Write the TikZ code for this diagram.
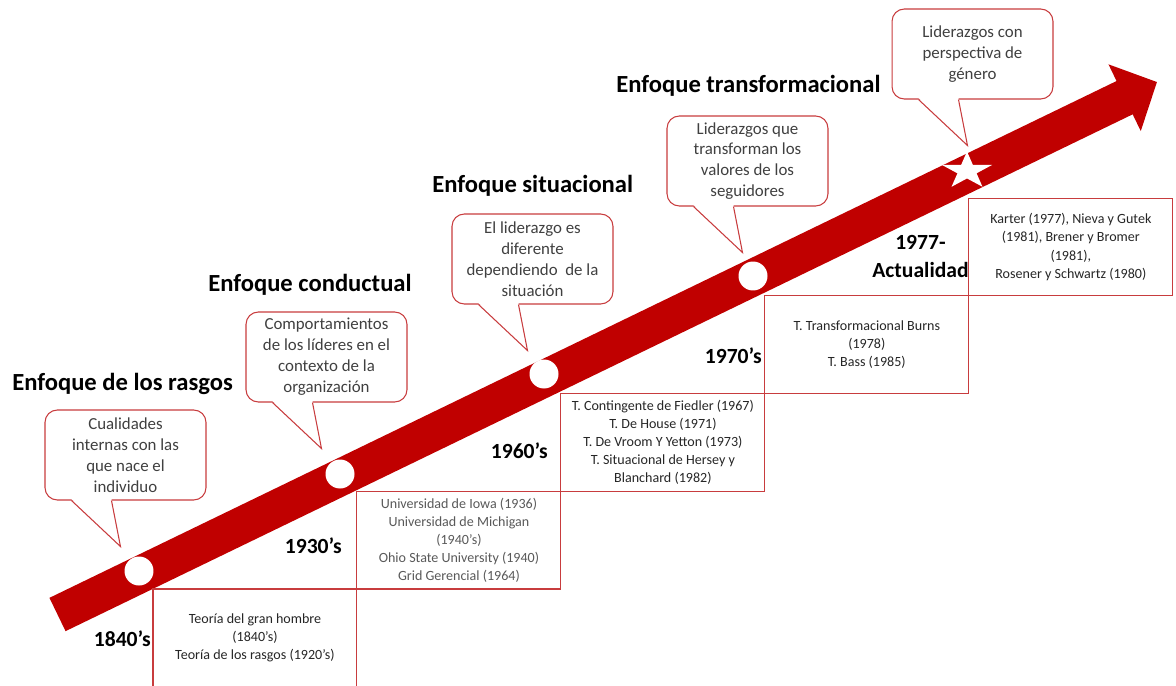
\documentclass[tikz,border=0pt]{standalone}
\usepackage{fontspec}
\setmainfont{Carlito}
\usepackage{tikz}
\usetikzlibrary{arrows.meta,shapes.geometric}
\usetikzlibrary{positioning}
\definecolor{arrowred}{RGB}{192,0,0}
\definecolor{linered}{RGB}{200,60,62}
\definecolor{graytxt}{RGB}{89,89,89}
\definecolor{darktxt}{RGB}{38,38,38}
\definecolor{bubbletxt}{RGB}{64,64,64}
\tikzset{
    period/.style={
           rectangle,
           draw=linered, line width=0.6pt,
           minimum width=4.08cm,
           minimum height=1.955cm,
           inner sep=0pt, outer sep=0pt,
           align=center,
           text=darktxt,
           font=\fontsize{8}{10.3}\selectfont,
           },
}
\tikzset{
    bubble/.style={
           rectangle,
           rounded corners=7pt,
           draw=linered, line width=0.6pt,
           fill=white,
           minimum width=3.22cm,
           minimum height=1.8cm,
           align=center,
           text=bubbletxt,
           font=\fontsize{9.6}{11.9}\selectfont,
           },
}
\tikzset{
    milestone/.style={
           circle,
           fill=white,
           minimum size=0.58cm,
           inner sep=0pt,
           },
}
\tikzset{
    stage/.style={font=\fontsize{14}{17}\selectfont\bfseries, inner sep=0pt, anchor=base west},
    era/.style={font=\fontsize{12.3}{15.8}\selectfont\bfseries, inner sep=0pt, align=center, anchor=base east},
}

\begin{document}
\begin{tikzpicture}[x=0.02cm, y=-0.02cm]
\useasboundingbox (0,0) rectangle (1176,686);
\clip (0,0) rectangle (1176,686);

\coordinate (tail) at (57.5,614.5);
\coordinate (tip) at (1157,82);
\draw[arrowred, line width=0.74cm, -{Triangle[length=0.72cm,width=1.44cm]}] (tail) -- (tip);

\node[milestone] (m1) at (139,571) {};
\node[milestone] (m2) at (340,474) {};
\node[milestone] (m3) at (544,374) {};
\node[milestone] (m4) at (753,276) {};
\begin{scope}[shift={(967,171)}, xscale=1.35]
\node[star, star points=5, star point ratio=2.618, fill=white, minimum size=0.78cm, inner sep=0pt, transform shape] (m5) at (0,0) {};
\end{scope}

\node[period, anchor=north west] (b1) at (153,589) {Teoría del gran hombre\\(1840’s)\\Teoría de los rasgos (1920’s)};
\node[period, text=graytxt, above right=0pt and 0pt of b1] (b2) {Universidad de Iowa (1936)\\Universidad de Michigan\\(1940’s)\\Ohio State University (1940)\\Grid Gerencial (1964)};
\node[period, above right=0pt and 0pt of b2] (b3) {T. Contingente de Fiedler (1967)\\T. De House (1971)\\T. De Vroom Y Yetton (1973)\\T. Situacional de Hersey y\\Blanchard (1982)};
\node[period, above right=0pt and 0pt of b3] (b4) {T. Transformacional Burns\\(1978)\\T. Bass (1985)};
\node[period, above right=0pt and 0pt of b4] (b5) {Karter (1977), Nieva y Gutek\\(1981), Brener y Bromer\\(1981),\\Rosener y Schwartz (1980)};

\node[era] (e1) at (151,646) {1840’s};
\node[era] (e2) at (342,553) {1930’s};
\node[era] (e3) at (548,458) {1960’s};
\node[era] (e4) at (762,363) {1970’s};
\node[era, anchor=south east] (e5) at (969,278) {1977-\\Actualidad};

\node[stage] (h1) at (12,390) {Enfoque de los rasgos};
\node[stage] (h2) at (208,291) {Enfoque conductual};
\node[stage] (h3) at (432,192) {Enfoque situacional};
\node[stage] (h4) at (616,92) {Enfoque transformacional};

\node[bubble] (c1) at (125.5,455) {Cualidades\\internas con las\\que nace el\\individuo};
\node[bubble] (c2) at (326.5,357) {Comportamientos\\de los líderes en el\\contexto de la\\organización};
\node[bubble] (c3) at (532.5,259) {El liderazgo es\\diferente\\dependiendo\ \ de la\\situación};
\node[bubble] (c4) at (747.5,161) {Liderazgos que\\transforman los\\valores de los\\seguidores};
\node[bubble] (c5) at (972.5,54) {Liderazgos con\\perspectiva de\\género};

\foreach \c in {c1,c2,c3,c4,c5}{
  \coordinate (\c tip) at ([shift={(76,46)}]\c.south west);
  \fill[white] ([shift={(27,-1.5)}]\c.south west) -- (\c tip) -- ([shift={(67,-1.5)}]\c.south west) -- cycle;
  \draw[linered, line width=0.6pt, line join=miter] ([shift={(27,0)}]\c.south west) -- (\c tip) -- ([shift={(67,0)}]\c.south west);
}
\end{tikzpicture}
\end{document}
